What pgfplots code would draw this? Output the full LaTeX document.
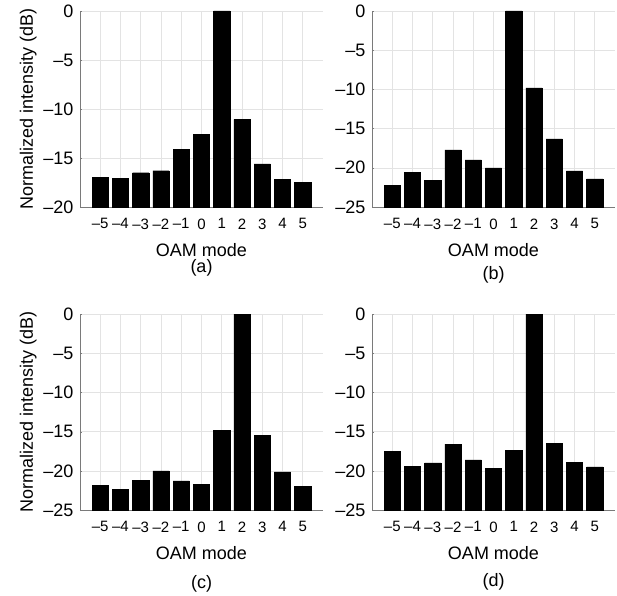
\documentclass[border=0pt]{standalone}
\usepackage{fontspec}
\setmainfont{Liberation Sans}
\usepackage{pgfplots}
\usepackage{pgfplotstable}
\pgfplotsset{compat=1.18}
\definecolor{gridgray}{HTML}{E3E3E3}
\definecolor{axgray}{HTML}{7A7A7A}

\pgfplotstableread{
m v
-5 -17.0
-4 -17.1
-3 -16.5
-2 -16.3
-1 -14.1
0 -12.6
1 0
2 -11.05
3 -15.6
4 -17.2
5 -17.45
}\dataA
\pgfplotstableread{
m v
-5 -22.2
-4 -20.6
-3 -21.6
-2 -17.7
-1 -19.0
0 -20.0
1 0
2 -9.8
3 -16.3
4 -20.4
5 -21.4
}\dataB
\pgfplotstableread{
m v
-5 -21.85
-4 -22.4
-3 -21.2
-2 -20.0
-1 -21.3
0 -21.75
1 -14.85
2 0
3 -15.5
4 -20.15
5 -22.0
}\dataC
\pgfplotstableread{
m v
-5 -17.5
-4 -19.45
-3 -19.0
-2 -16.6
-1 -18.6
0 -19.7
1 -17.35
2 0
3 -16.5
4 -18.95
5 -19.5
}\dataD

\pgfplotsset{
  oam/.style={
    scale only axis, width=243pt, height=196pt,
    xmin=-6, xmax=6, xtick={-5,...,5},
    xticklabels={–5,–4,–3,–2,–1,0,1,2,3,4,5},
    axis x line*=bottom, axis y line*=left,
    axis line style={axgray, line width=0.8pt, -},
    grid=major, grid style={gridgray, line width=0.6pt},
    tick align=inside, major tick length=2pt, tick style={axgray},
    xticklabel style={font=\fontsize{15}{18}\selectfont, yshift=-8pt},
    yticklabel style={font=\fontsize{18}{21}\selectfont, xshift=-3pt},
    label style={font=\fontsize{18}{21}\selectfont},
    xlabel={OAM mode},
    xlabel style={at={(axis description cs:0.5,0)}, anchor=center, yshift=-43pt},
  },
  bars/.style={ybar, fill=black, draw=black, line width=0.4pt, bar width=0.8, bar shift=0pt},
  y20/.style={ymin=0, ymax=20, ytick={0,5,10,15,20},
    yticklabels={–20,–15,–10,–5,0}},
  y25/.style={ymin=0, ymax=25, ytick={0,5,10,15,20,25},
    yticklabels={–25,–20,–15,–10,–5,0}},
}

\begin{document}
\begin{tikzpicture}[x=1pt,y=1pt]
\useasboundingbox (0,0) rectangle (617,595);

\begin{axis}[oam, y20, name=pa, at={(80pt,388pt)}, anchor=south west,
  ylabel={Normalized intensity (dB)}]
\addplot[bars] table[x=m, y expr=\thisrow{v}+20] {\dataA};
\end{axis}

\begin{axis}[oam, y25, name=pb, at={(372pt,388pt)}, anchor=south west]
\addplot[bars] table[x=m, y expr=\thisrow{v}+25] {\dataB};
\end{axis}

\begin{axis}[oam, y25, name=pc, at={(80pt,85pt)}, anchor=south west,
  ylabel={Normalized intensity (dB)}]
\addplot[bars] table[x=m, y expr=\thisrow{v}+25] {\dataC};
\end{axis}

\begin{axis}[oam, y25, name=pd, at={(372pt,85pt)}, anchor=south west]
\addplot[bars] table[x=m, y expr=\thisrow{v}+25] {\dataD};
\end{axis}

\begin{scope}[every node/.style={font=\fontsize{18}{21}\selectfont}]
\node at ([yshift=-61pt]pa.south) {(a)};
\node at ([yshift=-68pt]pb.south) {(b)};
\node at ([yshift=-74pt]pc.south) {(c)};
\node at ([yshift=-72pt]pd.south) {(d)};
\end{scope}
\end{tikzpicture}
\end{document}
